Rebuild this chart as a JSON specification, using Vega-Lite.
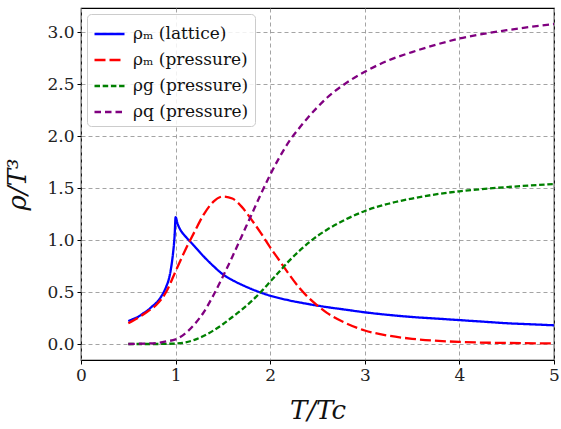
{
  "$schema": "https://vega.github.io/schema/vega-lite/v6.json",
  "width": 473,
  "height": 352,
  "autosize": {"type": "none"},
  "padding": {"left": 81, "top": 8, "right": 7, "bottom": 69},
  "background": "white",
  "data": {
    "values": [
      {"T": 0.5, "rho": 0.22, "s": "lat"}, {"T": 0.55, "rho": 0.24, "s": "lat"}, {"T": 0.6, "rho": 0.26, "s": "lat"},
      {"T": 0.65, "rho": 0.29, "s": "lat"}, {"T": 0.7, "rho": 0.32, "s": "lat"}, {"T": 0.75, "rho": 0.36, "s": "lat"},
      {"T": 0.8, "rho": 0.40, "s": "lat"}, {"T": 0.85, "rho": 0.46, "s": "lat"}, {"T": 0.9, "rho": 0.55, "s": "lat"},
      {"T": 0.93, "rho": 0.63, "s": "lat"}, {"T": 0.95, "rho": 0.72, "s": "lat"}, {"T": 0.97, "rho": 0.85, "s": "lat"},
      {"T": 0.99, "rho": 1.05, "s": "lat"}, {"T": 1.0, "rho": 1.22, "s": "lat"}, {"T": 1.02, "rho": 1.16, "s": "lat"},
      {"T": 1.05, "rho": 1.10, "s": "lat"}, {"T": 1.1, "rho": 1.04, "s": "lat"}, {"T": 1.15, "rho": 0.99, "s": "lat"},
      {"T": 1.2, "rho": 0.94, "s": "lat"}, {"T": 1.3, "rho": 0.84, "s": "lat"}, {"T": 1.4, "rho": 0.75, "s": "lat"},
      {"T": 1.5, "rho": 0.67, "s": "lat"}, {"T": 1.6, "rho": 0.615, "s": "lat"}, {"T": 1.7, "rho": 0.57, "s": "lat"},
      {"T": 1.8, "rho": 0.53, "s": "lat"}, {"T": 1.9, "rho": 0.495, "s": "lat"}, {"T": 2.0, "rho": 0.465, "s": "lat"},
      {"T": 2.2, "rho": 0.42, "s": "lat"}, {"T": 2.4, "rho": 0.385, "s": "lat"}, {"T": 2.6, "rho": 0.355, "s": "lat"},
      {"T": 2.8, "rho": 0.33, "s": "lat"}, {"T": 3.0, "rho": 0.305, "s": "lat"}, {"T": 3.25, "rho": 0.28, "s": "lat"},
      {"T": 3.5, "rho": 0.26, "s": "lat"}, {"T": 3.75, "rho": 0.245, "s": "lat"}, {"T": 4.0, "rho": 0.23, "s": "lat"},
      {"T": 4.25, "rho": 0.215, "s": "lat"}, {"T": 4.5, "rho": 0.20, "s": "lat"}, {"T": 4.75, "rho": 0.19, "s": "lat"},
      {"T": 5.0, "rho": 0.18, "s": "lat"},

      {"T": 0.5, "rho": 0.20, "s": "m"}, {"T": 0.6, "rho": 0.25, "s": "m"}, {"T": 0.7, "rho": 0.31, "s": "m"},
      {"T": 0.8, "rho": 0.38, "s": "m"}, {"T": 0.9, "rho": 0.50, "s": "m"}, {"T": 1.0, "rho": 0.70, "s": "m"},
      {"T": 1.1, "rho": 0.90, "s": "m"}, {"T": 1.2, "rho": 1.08, "s": "m"}, {"T": 1.3, "rho": 1.25, "s": "m"},
      {"T": 1.4, "rho": 1.37, "s": "m"}, {"T": 1.5, "rho": 1.42, "s": "m"}, {"T": 1.6, "rho": 1.40, "s": "m"},
      {"T": 1.7, "rho": 1.32, "s": "m"}, {"T": 1.8, "rho": 1.20, "s": "m"}, {"T": 1.9, "rho": 1.07, "s": "m"},
      {"T": 2.0, "rho": 0.93, "s": "m"}, {"T": 2.1, "rho": 0.80, "s": "m"}, {"T": 2.2, "rho": 0.67, "s": "m"},
      {"T": 2.3, "rho": 0.55, "s": "m"}, {"T": 2.4, "rho": 0.45, "s": "m"}, {"T": 2.5, "rho": 0.37, "s": "m"},
      {"T": 2.6, "rho": 0.30, "s": "m"}, {"T": 2.8, "rho": 0.20, "s": "m"}, {"T": 3.0, "rho": 0.13, "s": "m"},
      {"T": 3.25, "rho": 0.08, "s": "m"}, {"T": 3.5, "rho": 0.05, "s": "m"}, {"T": 4.0, "rho": 0.02, "s": "m"},
      {"T": 4.5, "rho": 0.01, "s": "m"}, {"T": 5.0, "rho": 0.005, "s": "m"},

      {"T": 0.5, "rho": 0.0, "s": "g"}, {"T": 0.8, "rho": 0.0, "s": "g"}, {"T": 1.0, "rho": 0.005, "s": "g"},
      {"T": 1.1, "rho": 0.015, "s": "g"}, {"T": 1.2, "rho": 0.04, "s": "g"}, {"T": 1.3, "rho": 0.08, "s": "g"},
      {"T": 1.4, "rho": 0.13, "s": "g"}, {"T": 1.5, "rho": 0.19, "s": "g"}, {"T": 1.6, "rho": 0.26, "s": "g"},
      {"T": 1.7, "rho": 0.33, "s": "g"}, {"T": 1.8, "rho": 0.41, "s": "g"}, {"T": 1.9, "rho": 0.50, "s": "g"},
      {"T": 2.0, "rho": 0.60, "s": "g"}, {"T": 2.1, "rho": 0.70, "s": "g"}, {"T": 2.2, "rho": 0.80, "s": "g"},
      {"T": 2.3, "rho": 0.89, "s": "g"}, {"T": 2.4, "rho": 0.97, "s": "g"}, {"T": 2.5, "rho": 1.04, "s": "g"},
      {"T": 2.6, "rho": 1.10, "s": "g"}, {"T": 2.8, "rho": 1.20, "s": "g"}, {"T": 3.0, "rho": 1.28, "s": "g"},
      {"T": 3.25, "rho": 1.35, "s": "g"}, {"T": 3.5, "rho": 1.40, "s": "g"}, {"T": 3.75, "rho": 1.44, "s": "g"},
      {"T": 4.0, "rho": 1.47, "s": "g"}, {"T": 4.5, "rho": 1.51, "s": "g"}, {"T": 5.0, "rho": 1.54, "s": "g"},

      {"T": 0.5, "rho": 0.0, "s": "q"}, {"T": 0.6, "rho": 0.002, "s": "q"}, {"T": 0.7, "rho": 0.005, "s": "q"},
      {"T": 0.8, "rho": 0.01, "s": "q"}, {"T": 0.9, "rho": 0.025, "s": "q"}, {"T": 1.0, "rho": 0.045, "s": "q"},
      {"T": 1.1, "rho": 0.10, "s": "q"}, {"T": 1.2, "rho": 0.19, "s": "q"}, {"T": 1.3, "rho": 0.31, "s": "q"},
      {"T": 1.4, "rho": 0.47, "s": "q"}, {"T": 1.5, "rho": 0.65, "s": "q"}, {"T": 1.6, "rho": 0.84, "s": "q"},
      {"T": 1.7, "rho": 1.04, "s": "q"}, {"T": 1.8, "rho": 1.24, "s": "q"}, {"T": 1.9, "rho": 1.44, "s": "q"},
      {"T": 2.0, "rho": 1.63, "s": "q"}, {"T": 2.1, "rho": 1.80, "s": "q"}, {"T": 2.2, "rho": 1.95, "s": "q"},
      {"T": 2.3, "rho": 2.07, "s": "q"}, {"T": 2.4, "rho": 2.18, "s": "q"}, {"T": 2.5, "rho": 2.28, "s": "q"},
      {"T": 2.6, "rho": 2.37, "s": "q"}, {"T": 2.8, "rho": 2.51, "s": "q"}, {"T": 3.0, "rho": 2.62, "s": "q"},
      {"T": 3.25, "rho": 2.73, "s": "q"}, {"T": 3.5, "rho": 2.81, "s": "q"}, {"T": 3.75, "rho": 2.88, "s": "q"},
      {"T": 4.0, "rho": 2.94, "s": "q"}, {"T": 4.5, "rho": 3.02, "s": "q"}, {"T": 5.0, "rho": 3.08, "s": "q"}
    ]
  },
  "mark": {"type": "line", "strokeWidth": 2.3, "interpolate": "monotone", "clip": true},
  "encoding": {
    "x": {
      "field": "T", "type": "quantitative",
      "scale": {"domain": [0, 5], "nice": false, "zero": false},
      "axis": {"values": [0, 1, 2, 3, 4, 5], "format": "d", "title": "T/Tc"}
    },
    "y": {
      "field": "rho", "type": "quantitative",
      "scale": {"domain": [-0.154, 3.234], "nice": false, "zero": false},
      "axis": {"values": [0, 0.5, 1, 1.5, 2, 2.5, 3], "format": ".1f", "title": "ρ/T³"}
    },
    "color": {
      "field": "s", "type": "nominal",
      "sort": ["lat", "m", "g", "q"],
      "scale": {"domain": ["lat", "m", "g", "q"], "range": ["#0000ff", "#ff0000", "#008000", "#800080"]},
      "legend": {
        "title": null,
        "orient": "top-left",
        "offset": 6,
        "labelExpr": "datum.value == 'lat' ? 'ρₘ (lattice)' : datum.value == 'm' ? 'ρₘ (pressure)' : datum.value == 'g' ? 'ρg (pressure)' : 'ρq (pressure)'"
      }
    },
    "strokeDash": {
      "field": "s", "type": "nominal",
      "sort": ["lat", "m", "g", "q"],
      "scale": {"domain": ["lat", "m", "g", "q"], "range": [[1, 0], [11, 4], [5.5, 2.7], [6.5, 4]]},
      "legend": {
        "title": null,
        "orient": "top-left",
        "offset": 6,
        "labelExpr": "datum.value == 'lat' ? 'ρₘ (lattice)' : datum.value == 'm' ? 'ρₘ (pressure)' : datum.value == 'g' ? 'ρg (pressure)' : 'ρq (pressure)'"
      }
    }
  },
  "config": {
    "font": "DejaVu Serif",
    "view": {"stroke": "black", "strokeWidth": 1.2},
    "axis": {
      "labelFont": "DejaVu Serif",
      "labelFontSize": 17,
      "labelColor": "#222",
      "titleFont": "DejaVu Serif",
      "titleFontStyle": "italic",
      "titleFontWeight": "normal",
      "titleFontSize": 26,
      "titleColor": "#111",
      "domain": false,
      "tickColor": "black",
      "tickSize": 4,
      "tickWidth": 1,
      "labelPadding": 3,
      "grid": true,
      "gridColor": "#9a9a9a",
      "gridDash": [4, 3],
      "gridWidth": 0.9
    },
    "axisX": {"titlePadding": 14, "labelFlush": false},
    "axisY": {"titlePadding": 16, "labelFlush": false},
    "legend": {
      "symbolType": "M-1,0L1.4,0",
      "symbolSize": 625,
      "symbolStrokeWidth": 2.5,
      "labelFont": "DejaVu Serif",
      "labelFontSize": 17,
      "labelColor": "#111",
      "rowPadding": 4,
      "padding": 6,
      "fillColor": "rgba(255,255,255,0.85)",
      "strokeColor": "#cccccc",
      "cornerRadius": 4,
      "labelOffset": 12
    }
  }
}
